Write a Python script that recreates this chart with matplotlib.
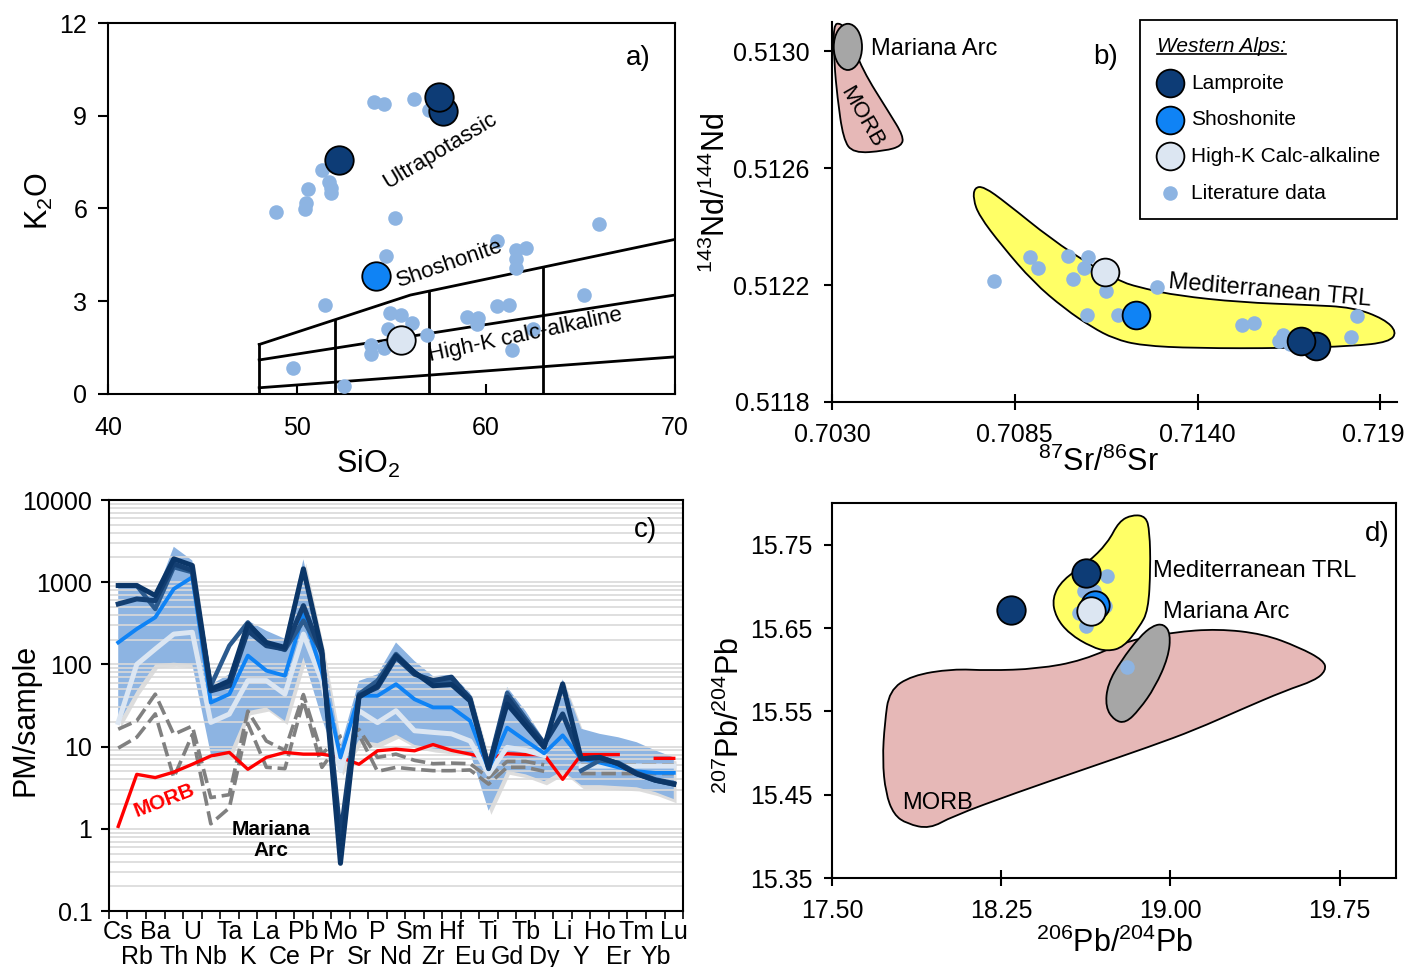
import numpy as np
import matplotlib
matplotlib.use('Agg')
import matplotlib.pyplot as plt
import matplotlib.patheffects as pe
from matplotlib.path import Path
from matplotlib.patches import PathPatch, Ellipse
from matplotlib.lines import Line2D
from matplotlib.transforms import ScaledTranslation, blended_transform_factory
from matplotlib.ticker import LogLocator, FixedLocator, NullFormatter

plt.rcParams['font.family'] = ['Liberation Sans', 'DejaVu Sans']
plt.rcParams['mathtext.fontset'] = 'custom'
plt.rcParams['mathtext.rm'] = 'Liberation Sans'
plt.rcParams['mathtext.it'] = 'Liberation Sans:italic'
plt.rcParams['mathtext.bf'] = 'Liberation Sans:bold'

C_LAMP = '#0d3c76'
C_SHOS = '#0f83f5'
C_HIGHK = '#dce6f2'
C_LIT = '#8db4e2'
C_PINK = '#e6b8b7'
C_GREY = '#a6a6a6'
C_YELLOW = '#ffff66'

# ---------------- a) K2O vs SiO2 ----------------
lit_a_sio2 = [54.1, 54.6, 56.2, 57.0, 51.3, 51.7, 51.8, 51.8, 50.6, 50.5, 50.4, 48.9, 55.2,
              66.0, 60.6, 61.6, 62.1, 61.6, 61.6, 54.7, 51.5, 65.2, 60.6, 61.2, 54.9, 55.5,
              56.1, 59.0, 59.6, 59.5, 54.8, 56.9, 53.9, 53.9, 54.6, 62.5, 61.4, 49.8, 52.5]
lit_a_k2o = [9.43, 9.37, 9.54, 9.19, 7.24, 6.86, 6.65, 6.49, 6.63, 6.18, 5.97, 5.89, 5.68,
             5.51, 4.94, 4.67, 4.73, 4.38, 4.08, 4.45, 2.88, 3.19, 2.83, 2.88, 2.62, 2.54,
             2.30, 2.49, 2.46, 2.27, 2.11, 1.92, 1.57, 1.28, 1.49, 2.11, 1.41, 0.84, 0.27]
lamp_a_sio2 = [57.7, 57.5, 52.2]
lamp_a_k2o = [9.15, 9.6, 7.57]
shos_a_sio2 = [54.2]
shos_a_k2o = [3.82]
highk_a_sio2 = [55.5]
highk_a_k2o = [1.76]

# Peccerillo & Taylor field boundaries
shos_line_x = [48, 52, 56, 70]
shos_line_y = [1.6, 2.4, 3.2, 5.0]
highk_line_x = [48, 70]
highk_line_y = [1.1, 3.2]
calc_line_x = [48, 70]
calc_line_y = [0.2, 1.2]
divider_x = [48, 52, 57, 63]
divider_top = [1.6, 2.4, 3.33, 4.1]

# ---------------- b) Nd vs Sr ----------------
lit_b_sr = [0.70788, 0.70896, 0.70919, 0.71011, 0.71025, 0.71059, 0.71071, 0.71126, 0.71068,
            0.71160, 0.71278, 0.71535, 0.71569, 0.71644, 0.71657, 0.71678, 0.71881, 0.71863]
lit_b_nd = [0.512213, 0.512295, 0.512257, 0.512300, 0.512221, 0.512257, 0.512295, 0.512181,
            0.512096, 0.512096, 0.512192, 0.512062, 0.512071, 0.512010, 0.512030, 0.511999,
            0.512094, 0.512022]
lamp_b_sr = [0.71756, 0.71712]
lamp_b_nd = [0.511993, 0.512010]
shos_b_sr = [0.71214]
shos_b_nd = [0.512099]
highk_b_sr = [0.71122]
highk_b_nd = [0.512244]

morb_b_sr = [0.70304, 0.70326, 0.70350, 0.70391, 0.70472, 0.70515, 0.70510, 0.70459, 0.70364,
             0.70334, 0.70316, 0.70307]
morb_b_nd = [0.513091, 0.513097, 0.513063, 0.512937, 0.512790, 0.512710, 0.512676, 0.512659,
             0.512651, 0.512699, 0.512846, 0.512960]
trl_b_sr = [0.70729, 0.70757, 0.70824, 0.70960, 0.71082, 0.71170, 0.71244, 0.71339, 0.71529,
            0.71732, 0.71867, 0.71962, 0.72000, 0.71976, 0.71867, 0.71664, 0.71393, 0.71231,
            0.71149, 0.71082, 0.71000, 0.70906, 0.70811, 0.70743, 0.70725]
trl_b_nd = [0.512534, 0.512537, 0.512482, 0.512357, 0.512266, 0.512210, 0.512187, 0.512164,
            0.512141, 0.512132, 0.512124, 0.512084, 0.512039, 0.512005, 0.511991, 0.511984,
            0.511984, 0.511993, 0.512016, 0.512056, 0.512119, 0.512210, 0.512335, 0.512437,
            0.512494]
mariana_b_center = (0.70348, 0.513015)
mariana_b_size = (0.00085, 0.000158)

# ---------------- c) spider diagram ----------------
elements = ['Cs', 'Rb', 'Ba', 'Th', 'U', 'Nb', 'Ta', 'K', 'La', 'Ce', 'Pb', 'Pr', 'Mo', 'Sr',
            'P', 'Nd', 'Sm', 'Zr', 'Hf', 'Eu', 'Ti', 'Gd', 'Tb', 'Dy', 'Li', 'Y', 'Ho', 'Er',
            'Tm', 'Yb', 'Lu']
nan = np.nan
lamp_1 = [911, 911, 690, 1925, 1600, 50, 63, 311, 185, 161, 1455, 147, 0.38, 40, 55, 128, 80,
          55, 57, 36, 5.6, 33, 18, 9.8, 58, 7.1, 7.4, 6.2, 4.65, 3.9, 3.5]
lamp_2 = [544, 626, 597, 1673, 1388, 47.7, 55, 257, 169, 154, 519, 134, 0.8, 41.5, 52.5, 122,
          76, 63.5, 70, 37.8, 5.4, 40, 20, 10.8, 25, 7.1, 7.4, 6.2, 4.7, 3.9, 3.5]
lamp_3 = [911, 911, 473, 1525, 1324, 55, 169, 325, 177, 150, 341, 140, 0.6, 43.5, 63.5, 134,
          80, 58, 63.5, 39.6, 5.8, 45, 22, 11, nan, 5.1, 6.8, 6.4, 4.8, 4.0, 3.6]
shos_c = [185, 270, 374, 829, 1150, 34.4, 43.5, 128, 84, 73, 411, 80, 7.4, 41.5, 41.5, 57.5,
          37.7, 30, 30, 20.6, 5.3, 17, 11.8, 8.3, 13.7, 7.1, 6.4, 5.6, 5.0, 4.8, 4.8]
highk_c = [19.7, 100, 154, 234, 246, 19.7, 24.9, 63.5, 63.5, 43.5, 234, 63, 5.1, 27.3, 19.6,
           27.3, 15.6, 14.9, 14.3, 11.7, 4.65, 9.8, 9.0, 7.8, nan, 5.8, 5.8, 5.8, 5.8, 5.8, 5.8]
lit_upper = [1000, 1000, 690, 2700, 1840, 57, 76, 341, 257, 205, 1900, 170, 10, 63, 76, 185,
             110, 72, 75, 45, 7, 53, 27, 12, 66, 16.5, 14.3, 13, 11.3, 9, 7.4]
lit_lower = [18.8, 47.7, 100, 105, 100, 8.1, 8.1, 27, 30, 20.6, 122, 22, 5, 12, 11, 14, 10.5,
             9.5, 9, 8.5, 1.66, 5.1, 4.6, 3.8, 5.1, 3.4, 3.4, 3.3, 3.2, 2.8, 2.3]
morb_c = [1.07, 4.6, 4.2, 4.9, 6.1, 7.7, 8.5, 5.3, 7.4, 8.5, 8.1, 8.1, 7.4, 6.1, 8.9, 9.3, 8.9,
          10.6, 9.0, 8.1, 7.2, 8.2, 8.0, 8.0, 4.0, 8.0, 8.0, 8.0, nan, 7.2, 7.2]
mariana_1 = [16.3, 20.6, 43.5, 14.1, 17.8, 2.4, 2.6, 27, 11.7, 9.0, 43, 8.1, 13.4, 16.2, 7.4,
             8.1, 6.8, 6.2, 6.3, 6.2, 4.2, 6.6, 6.6, 6.0, nan, 6.0, 6.0, 6.0, 6.0, 6.0, 6.0]
mariana_2 = [9.6, 13, 25, 4.2, 14, 1.15, 1.8, 19, 5.6, 5.4, 36, 5.6, 11.3, 14, 5.0, 5.6, 5.3,
             5.1, 5.1, 5.2, 3.5, 5.6, 5.6, 5.0, nan, 4.7, 4.7, 4.7, 4.7, 4.7, 4.7]

# ---------------- d) Pb isotopes ----------------
lit_d_206 = [18.718, 18.660, 18.616, 18.594, 18.624, 18.712, 18.668, 18.806]
lit_d_207 = [15.712, 15.694, 15.695, 15.668, 15.653, 15.676, 15.680, 15.603]
lamp_d_206 = [18.294, 18.624]
lamp_d_207 = [15.672, 15.716]
shos_d_206 = [18.668]
shos_d_207 = [15.678]
highk_d_206 = [18.646]
highk_d_207 = [15.670]

morb_d_206 = [17.724, 17.734, 17.754, 17.853, 18.033, 18.193, 18.412, 18.612, 18.812, 19.011,
              19.211, 19.411, 19.570, 19.680, 19.690, 19.640, 19.510, 19.311, 19.111, 18.912,
              18.612, 18.313, 18.033, 17.933, 17.833, 17.774, 17.738]
morb_d_207 = [15.492, 15.536, 15.575, 15.593, 15.601, 15.599, 15.601, 15.611, 15.635, 15.645,
              15.649, 15.643, 15.627, 15.611, 15.599, 15.587, 15.575, 15.552, 15.528, 15.508,
              15.480, 15.452, 15.424, 15.409, 15.415, 15.426, 15.452]
mariana_d_206 = [18.922, 18.971, 19.001, 18.991, 18.932, 18.862, 18.802, 18.752, 18.712,
                 18.722, 18.782, 18.862]
mariana_d_207 = [15.653, 15.655, 15.643, 15.615, 15.579, 15.552, 15.536, 15.539, 15.555,
                 15.583, 15.611, 15.639]
trl_d_206 = [18.772, 18.832, 18.892, 18.908, 18.912, 18.902, 18.862, 18.792, 18.722, 18.652,
             18.552, 18.492, 18.476, 18.522, 18.632, 18.722]
trl_d_207 = [15.778, 15.786, 15.784, 15.766, 15.722, 15.671, 15.651, 15.627, 15.622, 15.627,
             15.643, 15.663, 15.686, 15.708, 15.728, 15.752]


def smooth_patch(xs, ys, **kw):
    """closed outline drawn as quadratic B-spline through the mid points"""
    pts = np.column_stack([xs, ys])
    mids = (pts + np.roll(pts, -1, axis=0)) / 2
    verts = [mids[-1]]
    codes = [Path.MOVETO]
    for i in range(len(pts)):
        verts += [pts[i], mids[i]]
        codes += [Path.CURVE3, Path.CURVE3]
    verts.append(mids[-1])
    codes.append(Path.CLOSEPOLY)
    return PathPatch(Path(verts, codes), **kw)


def big_points(ax, x, y, color, s=420, label=None):
    return ax.scatter(x, y, s=s, c=color, edgecolors='black', linewidths=1.3, zorder=5,
                      label=label)


fig = plt.figure(figsize=(14.06, 9.67), dpi=100)

# ---- panel a ----
ax = fig.add_axes([0.0768, 0.5926, 0.4033, 0.3836])
ax.set_xlim(40, 70)
ax.set_ylim(0, 12)
line_kw = dict(color='black', lw=2, zorder=2)
ax.plot(shos_line_x, shos_line_y, **line_kw)
ax.plot(highk_line_x, highk_line_y, **line_kw)
ax.plot(calc_line_x, calc_line_y, **line_kw)
for xv, top in zip(divider_x, divider_top):
    ax.plot([xv, xv], [0, top], **line_kw)
ax.scatter(lit_a_sio2, lit_a_k2o, s=110, c=C_LIT, zorder=3, linewidths=0)
big_points(ax, lamp_a_sio2, lamp_a_k2o, C_LAMP)
big_points(ax, shos_a_sio2, shos_a_k2o, C_SHOS)
big_points(ax, highk_a_sio2, highk_a_k2o, C_HIGHK)
ax.text(57.6, 7.86, 'Ultrapotassic', rotation=31, fontsize=16, ha='center', va='center')
ax.text(58.1, 4.2, 'Shoshonite', rotation=19, fontsize=16, ha='center', va='center')
ax.text(62.1, 1.91, 'High-K calc-alkaline', rotation=12, fontsize=16, ha='center',
        va='center', zorder=6)
ax.text(0.935, 0.905, 'a)', transform=ax.transAxes, fontsize=20, ha='center', va='center')
ax.set_xticks([40, 50, 60, 70])
ax.set_yticks([0, 3, 6, 9, 12])
ax.tick_params(axis='x', direction='in', length=7, width=1.5, labelsize=18, pad=16)
ax.tick_params(axis='y', direction='out', length=7, width=1.5, labelsize=18, pad=8)
ax.set_xlabel('SiO$_2$', fontsize=22, va='center')
ax.xaxis.set_label_coords(0.459, -0.19)
ax.set_ylabel('K$_2$O', fontsize=22, va='center')
ax.yaxis.set_label_coords(-0.12, 0.52)
for sp in ax.spines.values():
    sp.set_linewidth(1.5)

# ---- panel b ----
ax = fig.add_axes([0.5917, 0.5843, 0.4019, 0.3929])
ax.set_xlim(0.7030, 0.7200)
ax.set_ylim(0.5118, 0.51310)
ax.add_patch(smooth_patch(morb_b_sr, morb_b_nd, facecolor=C_PINK, edgecolor='black', lw=1.3,
                          zorder=1))
ax.add_patch(Ellipse(mariana_b_center, *mariana_b_size, facecolor=C_GREY, edgecolor='black',
                     lw=1.3, zorder=2))
ax.add_patch(smooth_patch(trl_b_sr, trl_b_nd, facecolor=C_YELLOW, edgecolor='black', lw=1.3,
                          zorder=1))
h_lit = ax.scatter(lit_b_sr, lit_b_nd, s=110, c=C_LIT, zorder=3, linewidths=0)
h_lamp = big_points(ax, lamp_b_sr, lamp_b_nd, C_LAMP, s=400)
h_shos = big_points(ax, shos_b_sr, shos_b_nd, C_SHOS, s=400)
h_highk = big_points(ax, highk_b_sr, highk_b_nd, C_HIGHK, s=400)
ax.text(0.70417, 0.513007, 'Mariana Arc', fontsize=17, ha='left', va='center')
ax.text(0.70390, 0.512774, 'MORB', fontsize=16, rotation=-60, ha='center', va='center')
ax.text(0.71310, 0.512180, 'Mediterranean TRL', fontsize=17, rotation=-5, ha='left',
        va='center')
ax.text(0.71123, 0.512981, 'b)', fontsize=20, ha='center', va='center')
leg = ax.legend([h_lamp, h_shos, h_highk, h_lit],
                ['Lamproite', 'Shoshonite', 'High-K Calc-alkaline', 'Literature data'],
                loc='upper right', bbox_to_anchor=(1.0, 1.005), borderaxespad=0,
                fontsize=15, title='Western Alps:',
                title_fontproperties={'style': 'italic', 'size': 15},
                alignment='left', frameon=True, fancybox=False, edgecolor='black',
                framealpha=1, labelspacing=0.85, handletextpad=0.35, borderpad=0.8,
                scatterpoints=1, handlelength=1.3)
leg.get_frame().set_linewidth(1.3)
ax.set_xticks([0.7030, 0.7085, 0.7140, 0.7195])
ax.set_xticklabels(['0.7030', '0.7085', '0.7140', '0.719'])
ax.set_yticks([0.5118, 0.5122, 0.5126, 0.5130])
ax.set_yticklabels(['0.5118', '0.5122', '0.5126', '0.5130'])
ax.tick_params(axis='x', direction='inout', length=12, width=1.5, labelsize=18, pad=9)
ax.tick_params(axis='y', direction='out', length=6, width=1.5, labelsize=18, pad=10)
last = ax.get_xticklabels()[-1]
last.set_transform(last.get_transform() + ScaledTranslation(-5 / 72, 0, fig.dpi_scale_trans))
ax.spines['top'].set_visible(False)
ax.spines['right'].set_visible(False)
for sp in ax.spines.values():
    sp.set_linewidth(1.5)
ax.set_xlabel('$^{87}$Sr/$^{86}$Sr', fontsize=22, va='center')
ax.xaxis.set_label_coords(0.471, -0.16)
ax.set_ylabel('$^{143}$Nd/$^{144}$Nd', fontsize=22, va='center')
ax.yaxis.set_label_coords(-0.205, 0.55)

# ---- panel c ----
ax = fig.add_axes([0.0775, 0.0579, 0.4083, 0.4250])
xpos = np.arange(len(elements))
ax.set_yscale('log')
ax.set_ylim(0.1, 10000)
ax.set_xlim(-0.5, len(elements) - 0.5)
ax.fill_between(xpos, lit_lower, lit_upper, color=C_LIT, lw=0, zorder=1,
                path_effects=[pe.SimplePatchShadow(offset=(2, -3), shadow_rgbFace='#a0a0a0',
                                                   alpha=0.35), pe.Normal()])
ax.yaxis.set_minor_locator(LogLocator(base=10, subs=np.arange(2, 10)))
ax.yaxis.set_minor_formatter(NullFormatter())
ax.set_axisbelow('line')
ax.yaxis.grid(True, which='both', color='#d9d9d9', lw=1.2)
dash = (4, 1.6)
ax.plot(xpos, mariana_1, color='#808080', lw=2.6, ls=(0, dash), zorder=2)
ax.plot(xpos, mariana_2, color='#808080', lw=2.6, ls=(0, dash), zorder=2)
ax.plot(xpos, morb_c, color='#ff0000', lw=2.4, zorder=3)
ax.plot(xpos, highk_c, color=C_HIGHK, lw=3.6, zorder=4)
ax.plot(xpos, shos_c, color=C_SHOS, lw=2.8, zorder=4)
ax.plot(xpos, lamp_3, color='#2b5a8e', lw=3.2, zorder=5)
ax.plot(xpos, lamp_2, color='#143f72', lw=3.6, zorder=5)
ax.plot(xpos, lamp_1, color='#0b3668', lw=3.6, zorder=5)
ax.set_yticks([0.1, 1, 10, 100, 1000, 10000])
ax.set_yticklabels(['0.1', '1', '10', '100', '1000', '10000'])
ax.set_xticks(xpos)
ax.set_xticklabels([])
ax.xaxis.set_minor_locator(FixedLocator(np.arange(-0.5, len(elements), 1.0)))
ax.tick_params(axis='x', which='major', length=0)
ax.tick_params(axis='x', which='minor', direction='out', length=6, width=1.2)
ax.tick_params(axis='y', which='major', direction='out', length=6, width=1.5, labelsize=18,
               pad=6)
ax.tick_params(axis='y', which='minor', length=0)
# element names in two staggered rows
lab_tr = blended_transform_factory(ax.transData, ax.transAxes)
for i, el in enumerate(elements):
    ax.text(xpos[i], -0.052 if i % 2 == 0 else -0.113, el, transform=lab_tr, fontsize=18,
            ha='center', va='center')
for sp in ax.spines.values():
    sp.set_linewidth(1.5)
    sp.set_zorder(6)
ax.text(0.934, 0.927, 'c)', transform=ax.transAxes, fontsize=20, ha='center', va='center')
ax.text(0.0964, 0.27, 'MORB', transform=ax.transAxes, fontsize=15, fontweight='bold',
        color='#ff0000', rotation=21, ha='center', va='center', zorder=7)
ax.text(0.282, 0.173, 'Mariana\nArc', transform=ax.transAxes, fontsize=15,
        fontweight='bold', ha='center', va='center', zorder=7, linespacing=1.15)
ax.set_ylabel('PM/sample', fontsize=22, va='center')
ax.yaxis.set_label_coords(-0.146, 0.465)

# ---- panel d ----
ax = fig.add_axes([0.5917, 0.0920, 0.4012, 0.3878])
ax.set_xlim(17.5, 20.0)
ax.set_ylim(15.35, 15.80)
ax.add_patch(smooth_patch(morb_d_206, morb_d_207, facecolor=C_PINK, edgecolor='black',
                          lw=1.3, zorder=1))
ax.add_patch(smooth_patch(trl_d_206, trl_d_207, facecolor=C_YELLOW, edgecolor='black',
                          lw=1.3, zorder=1))
ax.add_patch(smooth_patch(mariana_d_206, mariana_d_207, facecolor=C_GREY, edgecolor='black',
                          lw=1.3, zorder=2))
ax.scatter(lit_d_206, lit_d_207, s=110, c=C_LIT, zorder=3, linewidths=0)
big_points(ax, lamp_d_206, lamp_d_207, C_LAMP)
big_points(ax, shos_d_206, shos_d_207, C_SHOS)
big_points(ax, highk_d_206, highk_d_207, C_HIGHK)
ax.text(18.925, 15.718, 'Mediterranean TRL', fontsize=17, ha='left', va='center')
ax.text(18.969, 15.669, 'Mariana Arc', fontsize=17, ha='left', va='center')
ax.text(17.813, 15.440, 'MORB', fontsize=17, ha='left', va='center')
ax.text(19.918, 15.763, 'd)', fontsize=20, ha='center', va='center')
ax.set_xticks([17.50, 18.25, 19.00, 19.75])
ax.set_xticklabels(['17.50', '18.25', '19.00', '19.75'])
ax.set_yticks([15.35, 15.45, 15.55, 15.65, 15.75])
ax.set_yticklabels(['15.35', '15.45', '15.55', '15.65', '15.75'])
ax.tick_params(axis='x', direction='inout', length=12, width=1.5, labelsize=18, pad=9)
ax.tick_params(axis='y', direction='out', length=6, width=1.5, labelsize=18, pad=8)
for sp in ax.spines.values():
    sp.set_linewidth(1.5)
ax.set_xlabel('$^{206}$Pb/$^{204}$Pb', fontsize=22, va='center')
ax.xaxis.set_label_coords(0.502, -0.173)
ax.set_ylabel('$^{207}$Pb/$^{204}$Pb', fontsize=22, va='center')
ax.yaxis.set_label_coords(-0.18, 0.435)

# underline for the legend title
fig.canvas.draw()
bb = leg.get_title().get_window_extent()
inv = fig.transFigure.inverted()
(x0, y0), (x1, _) = inv.transform([[bb.x0, bb.y0], [bb.x1, bb.y0]])
fig.add_artist(Line2D([x0, x1], [y0 + 0.002, y0 + 0.002], color='black', lw=1.2))

fig.savefig('out.png', dpi=100)
